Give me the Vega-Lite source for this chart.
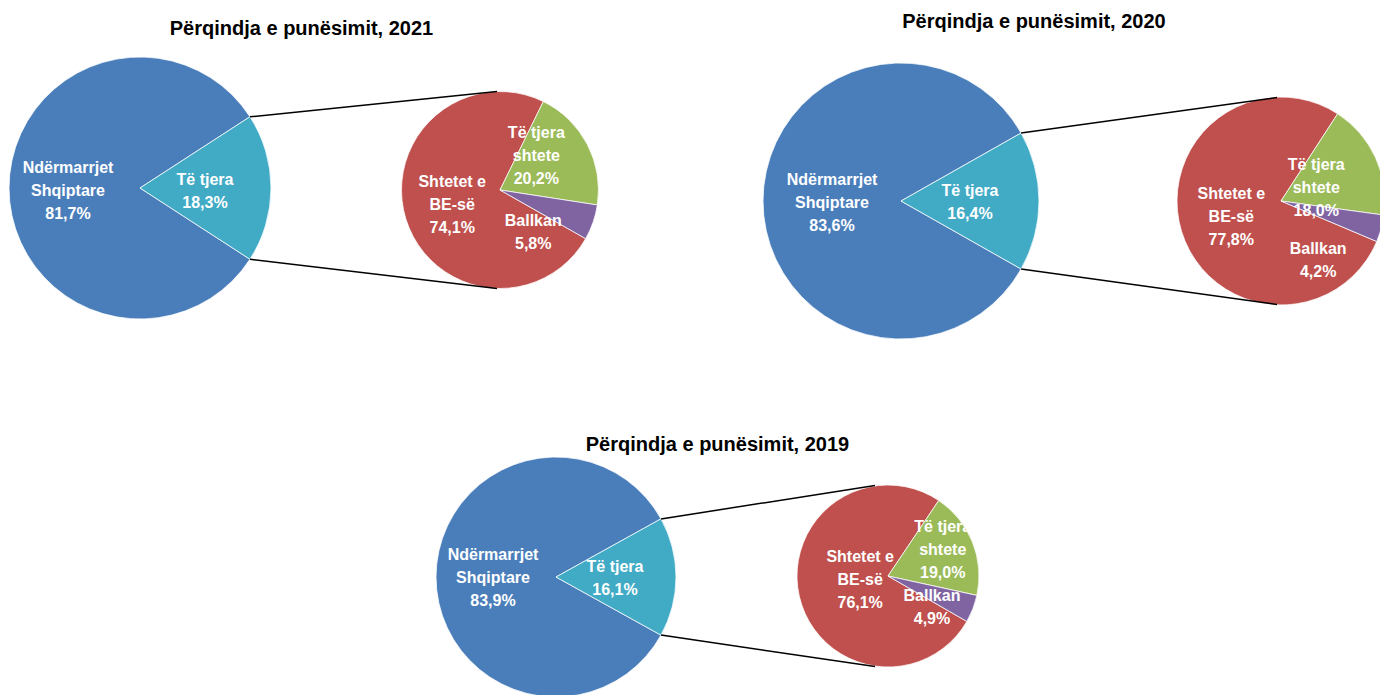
{
  "$schema": "https://vega.github.io/schema/vega-lite/v6.json",
  "width": 1380,
  "height": 695,
  "padding": 0,
  "autosize": {"type": "none"},
  "background": "#ffffff",
  "config": {"view": {"stroke": null}},
  "data": {
    "values": [
      {"year": 2021, "pie": "main", "category": "Ndërmarrjet Shqiptare", "value": 81.7, "label": "Ndërmarrjet\nShqiptare\n81,7%"},
      {"year": 2021, "pie": "main", "category": "Të tjera", "value": 18.3, "label": "Të tjera\n18,3%"},
      {"year": 2021, "pie": "detail", "category": "Shtetet e BE-së", "value": 74.1, "label": "Shtetet e\nBE-së\n74,1%"},
      {"year": 2021, "pie": "detail", "category": "Të tjera shtete", "value": 20.2, "label": "Të tjera\nshtete\n20,2%"},
      {"year": 2021, "pie": "detail", "category": "Ballkan", "value": 5.8, "label": "Ballkan\n5,8%"},
      {"year": 2020, "pie": "main", "category": "Ndërmarrjet Shqiptare", "value": 83.6, "label": "Ndërmarrjet\nShqiptare\n83,6%"},
      {"year": 2020, "pie": "main", "category": "Të tjera", "value": 16.4, "label": "Të tjera\n16,4%"},
      {"year": 2020, "pie": "detail", "category": "Shtetet e BE-së", "value": 77.8, "label": "Shtetet e\nBE-së\n77,8%"},
      {"year": 2020, "pie": "detail", "category": "Të tjera shtete", "value": 18.0, "label": "Të tjera\nshtete\n18,0%"},
      {"year": 2020, "pie": "detail", "category": "Ballkan", "value": 4.2, "label": "Ballkan\n4,2%"},
      {"year": 2019, "pie": "main", "category": "Ndërmarrjet Shqiptare", "value": 83.9, "label": "Ndërmarrjet\nShqiptare\n83,9%"},
      {"year": 2019, "pie": "main", "category": "Të tjera", "value": 16.1, "label": "Të tjera\n16,1%"},
      {"year": 2019, "pie": "detail", "category": "Shtetet e BE-së", "value": 76.1, "label": "Shtetet e\nBE-së\n76,1%"},
      {"year": 2019, "pie": "detail", "category": "Të tjera shtete", "value": 19.0, "label": "Të tjera\nshtete\n19,0%"},
      {"year": 2019, "pie": "detail", "category": "Ballkan", "value": 4.9, "label": "Ballkan\n4,9%"}
    ]
  },
  "resolve": {"scale": {"theta": "independent"}},
  "layer": [
    {
      "transform": [{"filter": "datum.year === 2021 && datum.pie === 'main'"}],
      "encoding": {
        "x": {"datum": 140, "type": "quantitative", "scale": {"domain": [0, 1380], "nice": false, "zero": false}, "axis": null},
        "y": {"datum": 188, "type": "quantitative", "scale": {"domain": [0, 695], "nice": false, "zero": false, "reverse": true}, "axis": null},
        "theta": {"field": "value", "type": "quantitative", "stack": true, "scale": {"range": [0.9959, 7.2791]}},
        "order": {"field": "value", "sort": "ascending"}
      },
      "layer": [
        {"mark": {"type": "arc", "outerRadius": 131, "stroke": "#ffffff", "strokeWidth": 0.75},
         "encoding": {"color": {"field": "category", "type": "nominal", "legend": null,
           "scale": {"domain": ["Ndërmarrjet Shqiptare", "Të tjera", "Shtetet e BE-së", "Të tjera shtete", "Ballkan"], "range": ["#4A7EBB", "#41ABC6", "#C0504D", "#9BBB59", "#8064A2"]}}}},
        {"mark": {"type": "text", "radius": 68, "color": "#ffffff", "font": "Liberation Sans, Arial, sans-serif", "fontWeight": "bold", "fontSize": 16, "lineHeight": 23, "lineBreak": "\n", "align": "center", "baseline": "middle",
           "dx": {"expr": "datum.category === 'Të tjera' ? -3 : -4"},
           "dy": {"expr": "datum.category === 'Të tjera' ? -8 : -20"}},
         "encoding": {"text": {"field": "label"}, "detail": {"field": "category"}}}
      ]
    },
    {
      "transform": [{"filter": "datum.year === 2021 && datum.pie === 'detail'"}],
      "encoding": {
        "x": {"datum": 500, "type": "quantitative", "scale": {"domain": [0, 1380], "nice": false, "zero": false}, "axis": null},
        "y": {"datum": 190, "type": "quantitative", "scale": {"domain": [0, 695], "nice": false, "zero": false, "reverse": true}, "axis": null},
        "theta": {"field": "value", "type": "quantitative", "stack": true, "scale": {"range": [2.0874, 8.3706]}},
        "order": {"field": "value", "sort": "descending"}
      },
      "layer": [
        {"mark": {"type": "arc", "outerRadius": 98.5, "stroke": "#ffffff", "strokeWidth": 0.75},
         "encoding": {"color": {"field": "category", "type": "nominal", "legend": null,
           "scale": {"domain": ["Ndërmarrjet Shqiptare", "Të tjera", "Shtetet e BE-së", "Të tjera shtete", "Ballkan"], "range": ["#4A7EBB", "#41ABC6", "#C0504D", "#9BBB59", "#8064A2"]}}}},
        {"mark": {"type": "text", "radius": 50, "color": "#ffffff", "font": "Liberation Sans, Arial, sans-serif", "fontWeight": "bold", "fontSize": 16, "lineHeight": 23, "lineBreak": "\n", "align": "center", "baseline": "middle",
           "dx": {"expr": "datum.category === 'Ballkan' ? -14 : datum.category === 'Të tjera shtete' ? -8 : 0"},
           "dy": {"expr": "datum.category === 'Ballkan' ? 15 : datum.category === 'Të tjera shtete' ? -34 : -23"}},
         "encoding": {"text": {"field": "label"}, "detail": {"field": "category"}}}
      ]
    },
    {
      "transform": [{"filter": "datum.year === 2020 && datum.pie === 'main'"}],
      "encoding": {
        "x": {"datum": 901, "type": "quantitative", "scale": {"domain": [0, 1380], "nice": false, "zero": false}, "axis": null},
        "y": {"datum": 201, "type": "quantitative", "scale": {"domain": [0, 695], "nice": false, "zero": false, "reverse": true}, "axis": null},
        "theta": {"field": "value", "type": "quantitative", "stack": true, "scale": {"range": [1.0556, 7.3388]}},
        "order": {"field": "value", "sort": "ascending"}
      },
      "layer": [
        {"mark": {"type": "arc", "outerRadius": 138, "stroke": "#ffffff", "strokeWidth": 0.75},
         "encoding": {"color": {"field": "category", "type": "nominal", "legend": null,
           "scale": {"domain": ["Ndërmarrjet Shqiptare", "Të tjera", "Shtetet e BE-së", "Të tjera shtete", "Ballkan"], "range": ["#4A7EBB", "#41ABC6", "#C0504D", "#9BBB59", "#8064A2"]}}}},
        {"mark": {"type": "text", "radius": 69, "color": "#ffffff", "font": "Liberation Sans, Arial, sans-serif", "fontWeight": "bold", "fontSize": 16, "lineHeight": 23, "lineBreak": "\n", "align": "center", "baseline": "middle",
           "dy": {"expr": "datum.category === 'Të tjera' ? -10 : -21"}},
         "encoding": {"text": {"field": "label"}, "detail": {"field": "category"}}}
      ]
    },
    {
      "transform": [{"filter": "datum.year === 2020 && datum.pie === 'detail'"}],
      "encoding": {
        "x": {"datum": 1281, "type": "quantitative", "scale": {"domain": [0, 1380], "nice": false, "zero": false}, "axis": null},
        "y": {"datum": 201, "type": "quantitative", "scale": {"domain": [0, 695], "nice": false, "zero": false, "reverse": true}, "axis": null},
        "theta": {"field": "value", "type": "quantitative", "stack": true, "scale": {"range": [1.9708, 8.254]}},
        "order": {"field": "value", "sort": "descending"}
      },
      "layer": [
        {"mark": {"type": "arc", "outerRadius": 104, "stroke": "#ffffff", "strokeWidth": 0.75},
         "encoding": {"color": {"field": "category", "type": "nominal", "legend": null,
           "scale": {"domain": ["Ndërmarrjet Shqiptare", "Të tjera", "Shtetet e BE-së", "Të tjera shtete", "Ballkan"], "range": ["#4A7EBB", "#41ABC6", "#C0504D", "#9BBB59", "#8064A2"]}}}},
        {"mark": {"type": "text", "radius": 52, "color": "#ffffff", "font": "Liberation Sans, Arial, sans-serif", "fontWeight": "bold", "fontSize": 16, "lineHeight": 23, "lineBreak": "\n", "align": "center", "baseline": "middle",
           "dx": {"expr": "datum.category === 'Ballkan' ? -13 : datum.category === 'Të tjera shtete' ? -12 : 0"},
           "dy": {"expr": "datum.category === 'Ballkan' ? 34 : datum.category === 'Të tjera shtete' ? -14 : -22"}},
         "encoding": {"text": {"field": "label"}, "detail": {"field": "category"}}}
      ]
    },
    {
      "transform": [{"filter": "datum.year === 2019 && datum.pie === 'main'"}],
      "encoding": {
        "x": {"datum": 556, "type": "quantitative", "scale": {"domain": [0, 1380], "nice": false, "zero": false}, "axis": null},
        "y": {"datum": 577, "type": "quantitative", "scale": {"domain": [0, 695], "nice": false, "zero": false, "reverse": true}, "axis": null},
        "theta": {"field": "value", "type": "quantitative", "stack": true, "scale": {"range": [1.065, 7.3482]}},
        "order": {"field": "value", "sort": "ascending"}
      },
      "layer": [
        {"mark": {"type": "arc", "outerRadius": 120, "stroke": "#ffffff", "strokeWidth": 0.75},
         "encoding": {"color": {"field": "category", "type": "nominal", "legend": null,
           "scale": {"domain": ["Ndërmarrjet Shqiptare", "Të tjera", "Shtetet e BE-së", "Të tjera shtete", "Ballkan"], "range": ["#4A7EBB", "#41ABC6", "#C0504D", "#9BBB59", "#8064A2"]}}}},
        {"mark": {"type": "text", "radius": 61, "dx": -2, "color": "#ffffff", "font": "Liberation Sans, Arial, sans-serif", "fontWeight": "bold", "fontSize": 16, "lineHeight": 23, "lineBreak": "\n", "align": "center", "baseline": "middle",
           "dy": {"expr": "datum.category === 'Të tjera' ? -10 : -22"}},
         "encoding": {"text": {"field": "label"}, "detail": {"field": "category"}}}
      ]
    },
    {
      "transform": [{"filter": "datum.year === 2019 && datum.pie === 'detail'"}],
      "encoding": {
        "x": {"datum": 888, "type": "quantitative", "scale": {"domain": [0, 1380], "nice": false, "zero": false}, "axis": null},
        "y": {"datum": 576, "type": "quantitative", "scale": {"domain": [0, 695], "nice": false, "zero": false, "reverse": true}, "axis": null},
        "theta": {"field": "value", "type": "quantitative", "stack": true, "scale": {"range": [2.0934, 8.3766]}},
        "order": {"field": "value", "sort": "descending"}
      },
      "layer": [
        {"mark": {"type": "arc", "outerRadius": 91, "stroke": "#ffffff", "strokeWidth": 0.75},
         "encoding": {"color": {"field": "category", "type": "nominal", "legend": null,
           "scale": {"domain": ["Ndërmarrjet Shqiptare", "Të tjera", "Shtetet e BE-së", "Të tjera shtete", "Ballkan"], "range": ["#4A7EBB", "#41ABC6", "#C0504D", "#9BBB59", "#8064A2"]}}}},
        {"mark": {"type": "text", "radius": 45, "color": "#ffffff", "font": "Liberation Sans, Arial, sans-serif", "fontWeight": "bold", "fontSize": 16, "lineHeight": 23, "lineBreak": "\n", "align": "center", "baseline": "middle",
           "dx": {"expr": "datum.category === 'Ballkan' ? 2 : datum.category === 'Të tjera shtete' ? 13 : 16"},
           "dy": {"expr": "datum.category === 'Ballkan' ? 4 : datum.category === 'Të tjera shtete' ? -32 : -29"}},
         "encoding": {"text": {"field": "label"}, "detail": {"field": "category"}}}
      ]
    },
    {
      "transform": [{"filter": "datum.year === 2021 && datum.category === 'Të tjera'"}],
      "mark": {"type": "rule", "color": "#000000", "strokeWidth": 1.5},
      "encoding": {
        "x": {"datum": 249.9, "type": "quantitative", "scale": {"domain": [0, 1380], "nice": false, "zero": false}, "axis": null},
        "y": {"datum": 116.8, "type": "quantitative", "scale": {"domain": [0, 695], "nice": false, "zero": false, "reverse": true}, "axis": null},
        "x2": {"datum": 497},
        "y2": {"datum": 91.5}
      }
    },
    {
      "transform": [{"filter": "datum.year === 2021 && datum.category === 'Të tjera'"}],
      "mark": {"type": "rule", "color": "#000000", "strokeWidth": 1.5},
      "encoding": {
        "x": {"datum": 249.9, "type": "quantitative", "scale": {"domain": [0, 1380], "nice": false, "zero": false}, "axis": null},
        "y": {"datum": 259.2, "type": "quantitative", "scale": {"domain": [0, 695], "nice": false, "zero": false, "reverse": true}, "axis": null},
        "x2": {"datum": 497},
        "y2": {"datum": 288.5}
      }
    },
    {
      "transform": [{"filter": "datum.year === 2020 && datum.category === 'Të tjera'"}],
      "mark": {"type": "rule", "color": "#000000", "strokeWidth": 1.5},
      "encoding": {
        "x": {"datum": 1021.1, "type": "quantitative", "scale": {"domain": [0, 1380], "nice": false, "zero": false}, "axis": null},
        "y": {"datum": 133, "type": "quantitative", "scale": {"domain": [0, 695], "nice": false, "zero": false, "reverse": true}, "axis": null},
        "x2": {"datum": 1277},
        "y2": {"datum": 97.5}
      }
    },
    {
      "transform": [{"filter": "datum.year === 2020 && datum.category === 'Të tjera'"}],
      "mark": {"type": "rule", "color": "#000000", "strokeWidth": 1.5},
      "encoding": {
        "x": {"datum": 1021.1, "type": "quantitative", "scale": {"domain": [0, 1380], "nice": false, "zero": false}, "axis": null},
        "y": {"datum": 269, "type": "quantitative", "scale": {"domain": [0, 695], "nice": false, "zero": false, "reverse": true}, "axis": null},
        "x2": {"datum": 1277},
        "y2": {"datum": 304.5}
      }
    },
    {
      "transform": [{"filter": "datum.year === 2019 && datum.category === 'Të tjera'"}],
      "mark": {"type": "rule", "color": "#000000", "strokeWidth": 1.5},
      "encoding": {
        "x": {"datum": 661, "type": "quantitative", "scale": {"domain": [0, 1380], "nice": false, "zero": false}, "axis": null},
        "y": {"datum": 518.9, "type": "quantitative", "scale": {"domain": [0, 695], "nice": false, "zero": false, "reverse": true}, "axis": null},
        "x2": {"datum": 875},
        "y2": {"datum": 485.5}
      }
    },
    {
      "transform": [{"filter": "datum.year === 2019 && datum.category === 'Të tjera'"}],
      "mark": {"type": "rule", "color": "#000000", "strokeWidth": 1.5},
      "encoding": {
        "x": {"datum": 661, "type": "quantitative", "scale": {"domain": [0, 1380], "nice": false, "zero": false}, "axis": null},
        "y": {"datum": 635.1, "type": "quantitative", "scale": {"domain": [0, 695], "nice": false, "zero": false, "reverse": true}, "axis": null},
        "x2": {"datum": 875},
        "y2": {"datum": 666.5}
      }
    },
    {
      "transform": [{"filter": "datum.year === 2021 && datum.category === 'Të tjera'"}],
      "mark": {"type": "text", "font": "Liberation Sans, Arial, sans-serif", "fontWeight": "bold", "fontSize": 20, "color": "#000000", "align": "center", "baseline": "alphabetic"},
      "encoding": {
        "x": {"datum": 301.5, "type": "quantitative", "scale": {"domain": [0, 1380], "nice": false, "zero": false}, "axis": null},
        "y": {"datum": 35, "type": "quantitative", "scale": {"domain": [0, 695], "nice": false, "zero": false, "reverse": true}, "axis": null},
        "text": {"value": "Përqindja e punësimit, 2021"}
      }
    },
    {
      "transform": [{"filter": "datum.year === 2020 && datum.category === 'Të tjera'"}],
      "mark": {"type": "text", "font": "Liberation Sans, Arial, sans-serif", "fontWeight": "bold", "fontSize": 20, "color": "#000000", "align": "center", "baseline": "alphabetic"},
      "encoding": {
        "x": {"datum": 1034, "type": "quantitative", "scale": {"domain": [0, 1380], "nice": false, "zero": false}, "axis": null},
        "y": {"datum": 27.5, "type": "quantitative", "scale": {"domain": [0, 695], "nice": false, "zero": false, "reverse": true}, "axis": null},
        "text": {"value": "Përqindja e punësimit, 2020"}
      }
    },
    {
      "transform": [{"filter": "datum.year === 2019 && datum.category === 'Të tjera'"}],
      "mark": {"type": "text", "font": "Liberation Sans, Arial, sans-serif", "fontWeight": "bold", "fontSize": 20, "color": "#000000", "align": "center", "baseline": "alphabetic"},
      "encoding": {
        "x": {"datum": 717.5, "type": "quantitative", "scale": {"domain": [0, 1380], "nice": false, "zero": false}, "axis": null},
        "y": {"datum": 451, "type": "quantitative", "scale": {"domain": [0, 695], "nice": false, "zero": false, "reverse": true}, "axis": null},
        "text": {"value": "Përqindja e punësimit, 2019"}
      }
    }
  ]
}
